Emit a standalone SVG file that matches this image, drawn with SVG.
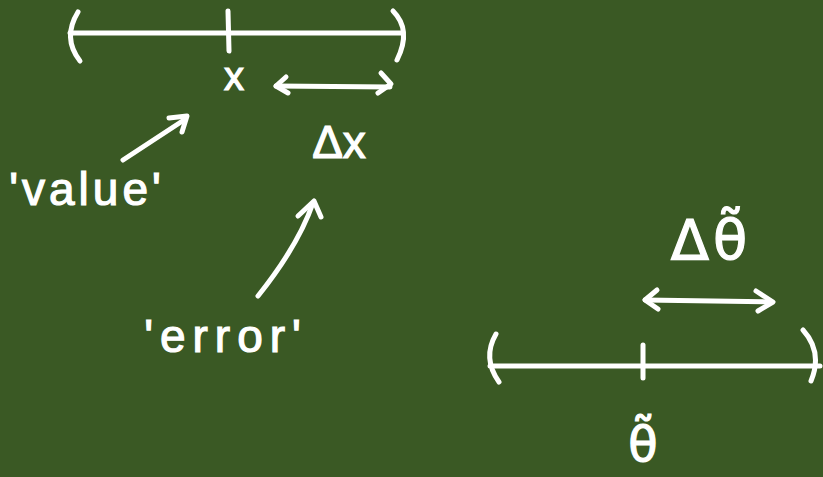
<svg xmlns="http://www.w3.org/2000/svg" width="823" height="477" viewBox="0 0 823 477">
<style>
.s{fill:none;stroke:#fff;stroke-width:5;stroke-linecap:round;stroke-linejoin:round}
.t{fill:#fff;stroke:#fff;stroke-width:1.2;font-family:"Liberation Sans","DejaVu Sans",sans-serif}
.g{fill:#fff;stroke:#fff;stroke-width:1.2;font-family:"DejaVu Sans",sans-serif}
</style>
<rect width="823" height="477" fill="#3a5924"/>
<g id="line-x">
<path class="s" d="M70 33 L402 33"/>
<path class="s" d="M78 12 Q62 38 80 61"/>
<path class="s" d="M393 11 Q412 30 397 60"/>
<path class="s" d="M228 11 L229 51"/>
</g>
<g id="label-x"><text class="t" x="234" y="90" font-size="40" text-anchor="middle">x</text></g>
<g id="label-dx"><text class="t" x="339" y="158" font-size="46" text-anchor="middle">Δx</text></g>
<g id="label-value"><text class="t" x="87" y="205" font-size="46" letter-spacing="4" text-anchor="middle">'value'</text></g>
<g id="label-error"><text class="t" x="226" y="352" font-size="46" letter-spacing="7" text-anchor="middle">'error'</text></g>
<g id="line-theta">
<path class="s" d="M490 366 L820 366"/>
<path class="s" d="M496 334 Q482 358 499 382"/>
<path class="s" d="M803 330 Q823 352 811 381"/>
<path class="s" d="M643 345 L643 378"/>
</g>
<g id="label-dtheta"><text class="g" x="711" y="259" font-size="56" letter-spacing="4" text-anchor="middle">Δθ̃</text></g>
<g id="label-theta"><text class="g" x="643" y="461" font-size="48" text-anchor="middle">θ̃</text></g>
<g id="connectors">
<path class="s" d="M276 86 L390 87"/>
<path class="s" d="M286 77 L276 86 L288 93"/>
<path class="s" d="M381 73 L391 84 L378 93"/>
<path class="s" d="M123 160 L184 120"/>
<path class="s" d="M169 118 L187 116 L182 132"/>
<path class="s" d="M258 296 Q298 246 313 203"/>
<path class="s" d="M298 216 L314 201 L321 217"/>
<path class="s" d="M645 300 L772 302"/>
<path class="s" d="M657 290 L645 300 L658 309"/>
<path class="s" d="M756 291 L773 302 L758 311"/>
</g>
</svg>
